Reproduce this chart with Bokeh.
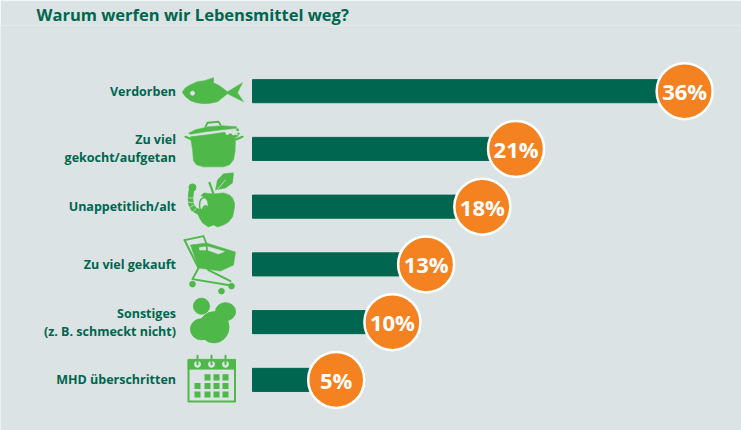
from bokeh.plotting import figure
from bokeh.models import Range1d, ColumnDataSource
from bokeh.core.properties import value
from bokeh.embed import file_html
from bokeh.resources import INLINE

title = "Warum werfen wir Lebensmittel weg?"
categories = ["Verdorben", "Zu viel\ngekocht/aufgetan", "Unappetitlich/alt",
              "Zu viel gekauft", "Sonstiges\n(z. B. schmeckt nicht)", "MHD überschritten"]
values = [36, 21, 18, 13, 10, 5]
labels = ["36%", "21%", "18%", "13%", "10%", "5%"]

BG, DARK, GREEN, ORANGE = "#dbe3e4", "#00664f", "#4eb848", "#f58220"
W, H, T = 741, 430, 26        # figure size and space taken by the title
PX_PER_PCT, X0 = 11.24, 279.5 # page x of value 0
BAR_LEFT = (252 - X0) / PX_PER_PCT
ROW, Y0 = 57.6, 91.5

p = figure(width=W, height=H, output_backend="svg", toolbar_location=None,
           x_range=Range1d((0 - X0) / PX_PER_PCT, (W - X0) / PX_PER_PCT),
           y_range=Range1d((H - Y0) / ROW, (T - Y0) / ROW),
           background_fill_color=BG, border_fill_color=BG, outline_line_color=None,
           min_border=0, min_border_top=4, x_axis_type=None, y_axis_type=None)
p.grid.visible = False
p.title.text = title
p.title.text_font = "Open Sans"
p.title.text_font_size = "16.5px"
p.title.text_font_style = "bold"
p.title.text_color = DARK
p.title.offset = 36
p.title.standoff = 0

p.extra_x_ranges["px"] = Range1d(0, W)
p.extra_y_ranges["px"] = Range1d(H, T)
PXK = dict(x_range_name="px", y_range_name="px")

# ---- data marks
rows = list(range(len(categories)))
src = ColumnDataSource(dict(y=rows, cat=categories, v=values, lab=labels,
                            left=[BAR_LEFT] * len(rows),
                            lx=[(175.5 - X0) / PX_PER_PCT] * len(rows)))
p.hbar(y="y", left="left", right="v", height=23 / ROW, color=DARK, source=src)
p.scatter(x="v", y="y", size=56, marker="circle", fill_color=ORANGE,
          line_color="white", line_width=2.5, source=src)
p.text(x="v", y="y", text="lab", text_align="center", text_baseline="middle",
       text_color="white", text_font=value("Open Sans"), text_font_style="bold",
       text_font_size="22px", source=src)
p.text(x="lx", y="y", text="cat", text_align="right", text_baseline="middle",
       text_color=DARK, text_font=value("Open Sans"), text_font_style="bold",
       text_font_size="12.5px", text_line_height=1.05, source=src)

# ---- pictograms, drawn in page pixels
def poly(xs, ys, color=GREEN):
    p.patch(xs, ys, fill_color=color, line_color=color, line_width=0.5, **PXK)
def pline(xs, ys, w, color=GREEN):
    p.line(xs, ys, line_color=color, line_width=w, line_cap="round", line_join="round", **PXK)
def ell(x, y, rx, ry, color=GREEN, line=None, lw=1):
    p.ellipse([x], [y], width=2 * rx, height=2 * ry, fill_color=color,
              line_color=line or color, line_width=lw, **PXK)

# fish
poly([182, 185, 190, 197, 204, 213, 213, 219, 227, 242, 237, 243, 227, 222, 217, 210, 203, 196, 190, 185, 182],
     [92, 88, 85, 82, 81, 78, 83, 86, 92, 83, 93, 102, 94, 98, 102, 103.5, 104, 103, 101, 97, 93])
ell(192, 93.5, 2, 2, BG)

# pot
poly([190, 207, 224, 238, 235, 234.5, 233, 229, 223, 203, 196, 193, 192],
     [137, 135, 132.5, 136, 138, 152, 160, 165, 167, 167, 165, 161, 150])
pline([185, 191], [137, 139.5], 2.2)
pline([236, 242], [139.5, 137], 2.2)
poly([188, 195, 208, 222, 236, 236, 222, 205, 190],
     [133.5, 130, 127, 126, 127, 128.5, 130, 132, 134.5])
pline([205, 207, 218, 220], [127, 123, 122, 125], 1.8)
for dx, dy, r in [(227, 133, 1.7), (233, 134, 1.2), (237, 130, 1), (238, 134, 0.8)]:
    ell(dx, dy, r, r, BG if dx < 235 else GREEN)

# apple
poly([197, 203, 213, 223, 229, 232, 234, 234, 232, 228, 223, 217, 213, 208, 202, 199, 197],
     [200, 193, 194, 193, 195, 198, 203, 208, 217, 222, 225, 227, 225, 227, 223, 218, 213])
ell(200, 205, 6.5, 8.5, BG)
ell(203.5, 205, 4.5, 7.5, BG, GREEN, 1.5)
pline([191.5, 190.5, 190, 190.5, 193, 198, 203, 205], [188, 193, 199, 204, 209, 212, 211.5, 208], 5.5)
ell(192, 187.5, 3.5, 3.5)
for xs, ys in [([187, 193], [198, 198]), ([187, 193], [202, 203]), ([188, 194], [208, 205]), ([192, 197], [212, 207])]:
    pline(xs, ys, 0.7, BG)
pline([209, 213], [183, 194], 2.2)
poly([215, 217, 223, 233, 232, 225], [190, 180, 174, 173, 183, 188])
pline([214, 225], [193, 180], 0.8, BG)

# shopping cart
poly([190, 206, 235, 233, 220, 198], [245, 243, 252, 265, 271, 268])
poly([199, 207, 224, 218, 207, 199], [247.5, 246.5, 251.5, 254, 250, 250], BG)
pline([184, 203, 206, 208], [240, 236, 244, 270], 1.8)
pline([184, 198, 192, 229], [240, 268, 279, 285], 2)
pline([208, 230], [270, 281], 2)
for cx, cy in [(192, 284), (221, 291), (231, 286)]:
    ell(cx, cy, 2.8, 2.8)

# blobs
ell(201, 306, 8, 8)
ell(225, 311.5, 10, 9)
ell(213.5, 327, 15, 15.5)
ell(201, 329, 11, 10.5)

# calendar
p.quad(left=[188], right=[234.5], top=[360], bottom=[401], fill_color=None,
       line_color=GREEN, line_width=2, line_join="round", **PXK)
poly([187.5, 235, 235, 187.5], [359, 359, 369, 369])
for cx in [197, 211, 225]:
    ell(cx, 364, 3, 3, BG)
    pline([cx, cx], [355.5, 364], 2)
sq_x = [197, 207, 216, 225]
sq_y = [377, 385.5, 394]
for j, sy in enumerate(sq_y):
    for i, sx in enumerate(sq_x):
        if j == 0 and i == 0:
            continue
        p.quad(left=[sx - 3], right=[sx + 3], top=[sy - 3], bottom=[sy + 3],
               fill_color=GREEN, line_color=None, **PXK)

open("out.html", "w").write(file_html(p, INLINE))
